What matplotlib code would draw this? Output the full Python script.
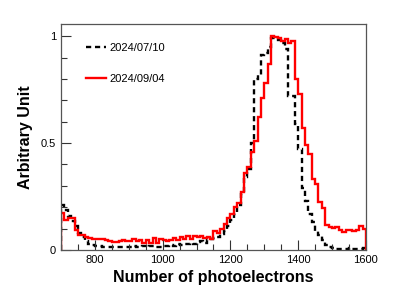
import numpy as np
import matplotlib
matplotlib.use("Agg")
import matplotlib.pyplot as plt
from matplotlib.ticker import MultipleLocator

plt.rcParams['font.family'] = ['Liberation Sans', 'DejaVu Sans']

# histogram binning: 700 - 1600, 10 p.e. per bin
edges = np.arange(700, 1601, 10)

# 2024/07/10 (black dashed)
run_0710 = [
    0.21, 0.185, 0.16, 0.135, 0.11, 0.08, 0.06, 0.04, 0.03, 0.025,
    0.02, 0.018, 0.015, 0.014, 0.014, 0.013, 0.014, 0.012, 0.013, 0.015,
    0.014, 0.018, 0.012, 0.015, 0.02, 0.014, 0.018, 0.02, 0.012, 0.016,
    0.02, 0.02, 0.025, 0.02, 0.028, 0.025, 0.03, 0.03, 0.035, 0.03,
    0.038, 0.04, 0.035, 0.045, 0.05, 0.055, 0.06, 0.075, 0.09, 0.11,
    0.14, 0.17, 0.21, 0.26, 0.34, 0.38, 0.50, 0.80, 0.82, 0.91,
    0.92, 0.95, 0.99, 0.99, 0.98, 0.97, 0.94, 0.72, 0.72, 0.59,
    0.47, 0.29, 0.23, 0.17, 0.13, 0.09, 0.07, 0.045, 0.025, 0.012,
    0.008, 0.006, 0.005, 0.006, 0.004, 0.008, 0.006, 0.007, 0.005, 0.008,
]

# 2024/09/04 (red)
run_0904 = [
    0.175, 0.14, 0.148, 0.148, 0.095, 0.07, 0.07, 0.062, 0.056, 0.053,
    0.052, 0.05, 0.053, 0.046, 0.042, 0.038, 0.038, 0.043, 0.048, 0.043,
    0.043, 0.05, 0.04, 0.046, 0.035, 0.048, 0.035, 0.055, 0.035, 0.05,
    0.045, 0.04, 0.045, 0.055, 0.045, 0.06, 0.05, 0.065, 0.05, 0.065,
    0.06, 0.065, 0.055, 0.06, 0.05, 0.09, 0.08, 0.10, 0.12, 0.15,
    0.17, 0.20, 0.22, 0.27, 0.36, 0.39, 0.46, 0.51, 0.62, 0.71,
    0.78, 0.87, 1.0, 0.995, 0.99, 0.977, 0.985, 0.97, 0.977, 0.80,
    0.73, 0.57, 0.49, 0.45, 0.33, 0.31, 0.226, 0.195, 0.117, 0.108,
    0.105, 0.108, 0.095, 0.082, 0.092, 0.094, 0.09, 0.092, 0.112, 0.097,
]

fig = plt.figure(figsize=(4.07, 2.98), dpi=100)
ax = fig.add_axes([0.150, 0.161, 0.749, 0.758])

ax.stairs(run_0710, edges, color='black', lw=1.7, ls=(0, (2.2, 1.6)), label='2024/07/10')
ax.stairs(run_0904, edges, color='red', lw=1.7, label='2024/09/04')

ax.set_xlim(700, 1600)
ax.set_ylim(0, 1.056)
ax.set_xticks([800, 1000, 1200, 1400, 1600])
ax.xaxis.set_minor_locator(MultipleLocator(50))
ax.set_yticks([0, 0.5, 1])
ax.set_yticklabels(['0', '0.5', '1'])
ax.yaxis.set_minor_locator(MultipleLocator(0.1))
ax.tick_params(which='both', direction='in', labelsize=8, colors='#333333', labelcolor='black')
ax.tick_params(which='major', length=7, width=0.8)
ax.tick_params(which='minor', length=4, width=0.8)
for s in ax.spines.values():
    s.set_color('#555555')
    s.set_linewidth(0.9)

ax.set_xlabel('Number of photoelectrons', fontsize=11.5, fontweight='bold', labelpad=4)
ax.set_ylabel('Arbitrary Unit', fontsize=11.5, fontweight='bold', labelpad=6)

ax.legend(loc='upper left', bbox_to_anchor=(0.05, 0.96), frameon=False, fontsize=8,
          handlelength=1.8, handletextpad=0.3, labelspacing=1.9)

fig.savefig('out.png', dpi=100)
